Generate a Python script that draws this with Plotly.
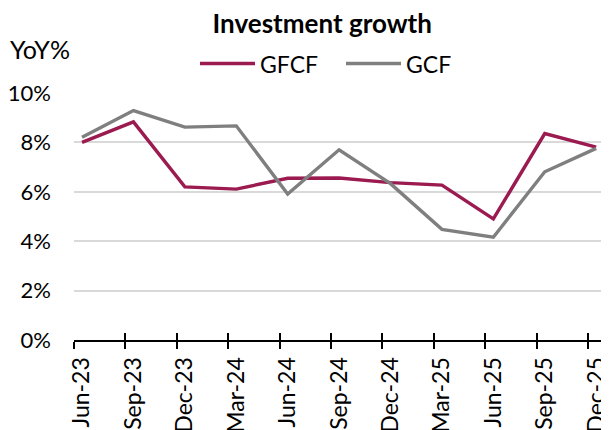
import plotly.graph_objects as go

quarters = ["Jun-23", "Sep-23", "Dec-23", "Mar-24", "Jun-24", "Sep-24",
            "Dec-24", "Mar-25", "Jun-25", "Sep-25", "Dec-25"]
gfcf = [8.00, 8.83, 6.20, 6.11, 6.55, 6.56, 6.37, 6.27, 4.90, 8.36, 7.81]
gcf = [8.21, 9.29, 8.62, 8.67, 5.91, 7.70, 6.33, 4.48, 4.16, 6.81, 7.76]
ytick_vals = [0, 2, 4, 6, 8, 10]
ytick_text = ["0%", "2%", "4%", "6%", "8%", "10%"]

idx = list(range(len(quarters)))
tick_offset = 0.156
tick_pos = [i - tick_offset for i in idx]

FONT = "Lato"
fig = go.Figure()
fig.add_trace(go.Scatter(x=idx, y=gfcf, name="GFCF", mode="lines",
                         line=dict(color="#9B1B50", width=3.4)))
fig.add_trace(go.Scatter(x=idx, y=gcf, name="GCF", mode="lines",
                         line=dict(color="#7F7F7F", width=3.4)))

xrange = [-tick_offset, 10.23]
fig.update_layout(
    width=609, height=430,
    margin=dict(l=66, r=9, t=84.5, b=98, autoexpand=False),
    paper_bgcolor="white", plot_bgcolor="white",
    font=dict(family=FONT, size=22, color="black"),
    title=dict(text="<b>Investment growth</b>", x=0.516, xanchor="center",
               y=0.985, yanchor="top", font=dict(size=26, family=FONT)),
    showlegend=True,
    legend=dict(orientation="h", x=0.2266, xanchor="left", y=1.119, yanchor="middle",
                font=dict(size=23), itemwidth=55, entrywidth=76, entrywidthmode="pixels",
                traceorder="normal"),
    xaxis=dict(range=xrange, tickmode="array", tickvals=idx, ticktext=quarters,
               tickangle=-90, ticks="", showgrid=False, zeroline=False,
               showline=True, linecolor="black", linewidth=2,
               ticklabelstandoff=6, automargin=False, ticklabeloverflow="allow",
               tickfont=dict(size=23),
               minor=dict(tickmode="array", tickvals=tick_pos, ticks="outside",
                          ticklen=7, tickwidth=1.5, tickcolor="black", showgrid=False)),
    xaxis2=dict(range=xrange, overlaying="x", anchor="y", side="bottom",
                tickmode="array", tickvals=tick_pos, ticks="inside",
                ticklen=7, tickwidth=1.5, tickcolor="black", automargin=False,
                showticklabels=False, showgrid=False, zeroline=False, showline=False),
    yaxis=dict(range=[0, 10], tickmode="array", tickvals=ytick_vals, ticktext=ytick_text,
               showgrid=True, gridcolor="#D9D9D9", gridwidth=1.5,
               zeroline=False, showline=False, ticks="", ticklabelstandoff=22,
               automargin=False, tickfont=dict(size=22)),
    annotations=[dict(text="YoY%", xref="paper", yref="paper", x=-0.1236, y=1.18,
                      xanchor="left", yanchor="middle", showarrow=False,
                      font=dict(size=25, family=FONT))],
)
fig.add_trace(go.Scatter(x=[], y=[], xaxis="x2", showlegend=False, hoverinfo="skip"))
fig.write_html("out.html")
